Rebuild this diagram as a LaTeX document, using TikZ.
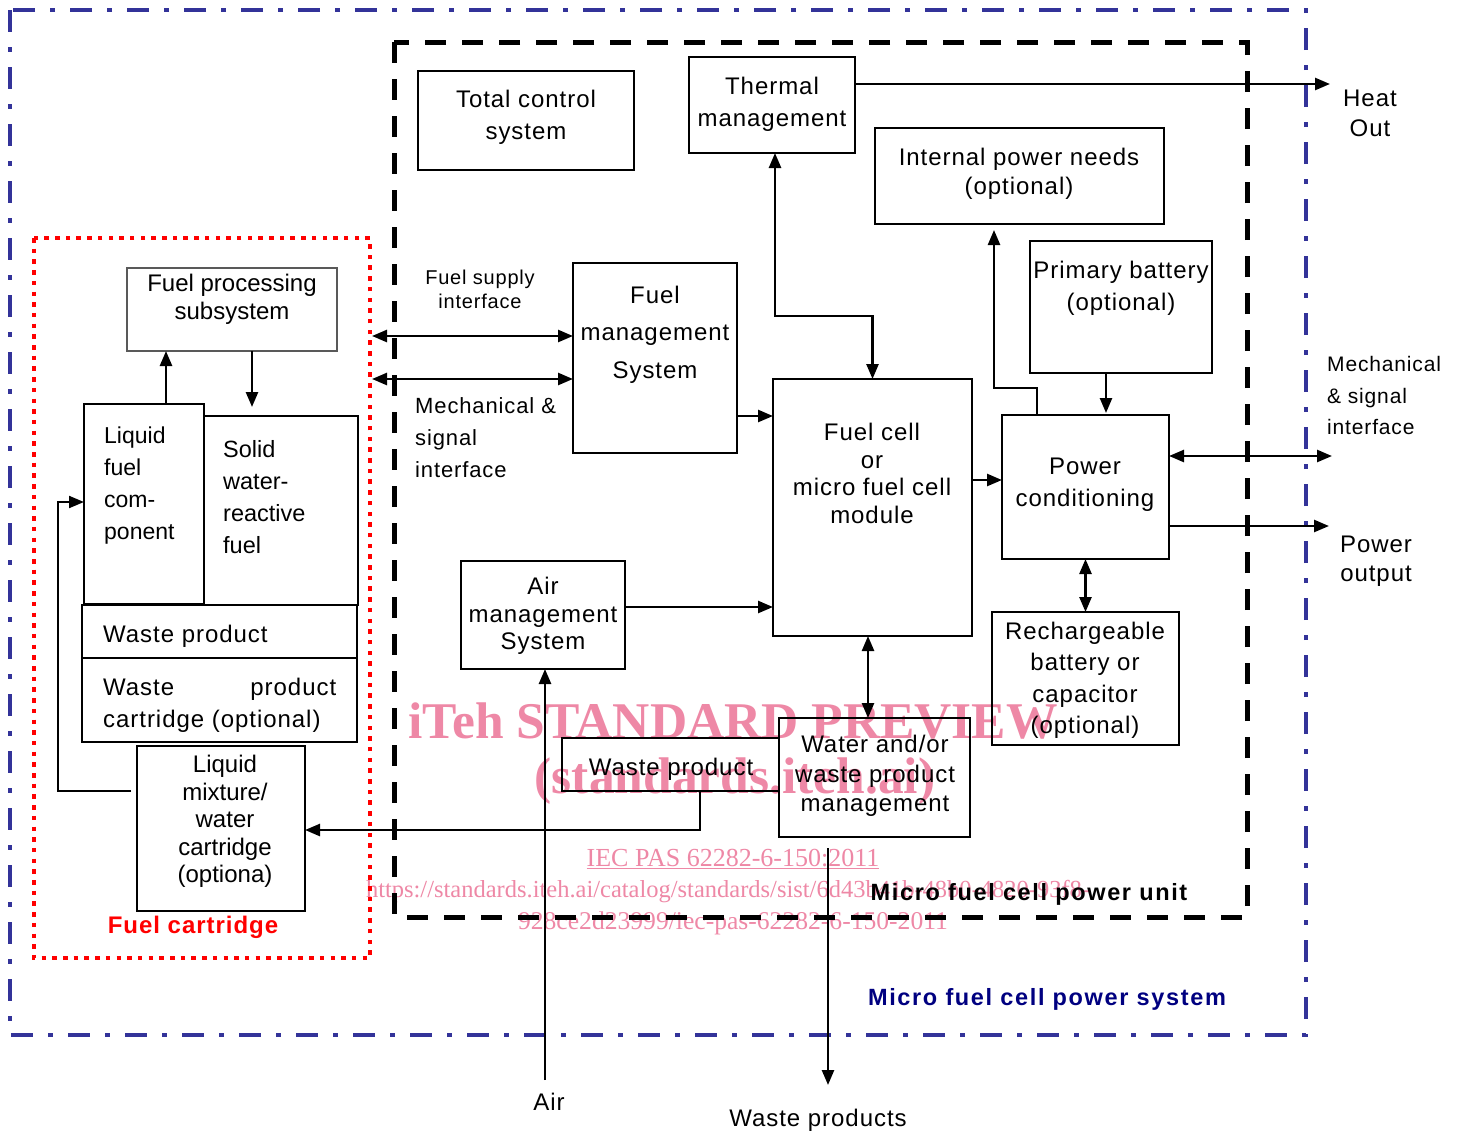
\documentclass[tikz,border=0pt]{standalone}
\usepackage{fontspec}
\setmainfont{Liberation Sans}[LetterSpace=4]
\newfontfamily\wmfont{Liberation Serif}
\usetikzlibrary{arrows.meta,calc}
\definecolor{sysblue}{RGB}{51,51,153}
\definecolor{navyblue}{RGB}{0,0,128}
\definecolor{wmpink}{RGB}{238,136,166}
\newcommand{\fsz}[2]{\fontsize{#1}{#2}\selectfont}
\newcommand{\nosp}{\addfontfeature{LetterSpace=0}}
\newcommand{\widesp}{\addfontfeature{LetterSpace=7}}
\begin{document}
\begin{tikzpicture}[x=1pt,y=-1pt,
 box/.style={draw, line width=2pt, inner sep=0pt, outer sep=0pt},
 txt/.style={inner sep=0pt, align=center, font=\fsz{24}{32}},
 btxt/.style={txt, yshift=-2.5pt},
 arr/.style={line width=2.5pt, -{Triangle[length=15pt,width=12pt]}},
 darr/.style={line width=2.5pt, {Triangle[length=15pt,width=12pt]}-{Triangle[length=15pt,width=12pt]}},
 wm/.style={text=wmpink, inner sep=0pt}]
\useasboundingbox (0,0) rectangle (1462,1135);

% watermark
\node[wm, font=\wmfont\bfseries\fsz{51.5}{51.5}] (wm1) at (733,721) {iTeh STANDARD PREVIEW};
\node[wm, font=\wmfont\bfseries\fsz{51.5}{51.5}] (wm2) at (735,781) {(standards.iteh.ai)};
\node[wm, font=\wmfont\fsz{26}{26}] (wm3) at (733,859) {\underline{IEC PAS 62282-6-150:2011}};
\node[wm, font=\wmfont\fsz{24.5}{24.5}] (wm4) at (728,892) {https://standards.iteh.ai/catalog/standards/sist/6d43b41b-48b0-4820-93f8-};
\node[wm, font=\wmfont\fsz{25.6}{25.6}] (wm5) at (733,923) {928ce2d23999/iec-pas-62282-6-150-2011};

% frames
\draw[sysblue, line width=4pt, dash pattern=on 22pt off 15pt on 5pt off 15pt] (10,10) rectangle (1306,1035);
\draw[black, line width=5pt, dash pattern=on 21pt off 16pt] (394,42) rectangle (1247,917);
\draw[red, line width=4pt, dash pattern=on 4.5pt off 6.2pt] (34,238) rectangle (370,958);

% boxes
\node[box, minimum width=216pt, minimum height=99pt] (tcs) at (526,120.5) {};
\node[box, minimum width=166pt, minimum height=96pt] (therm) at (772,105) {};
\node[box, minimum width=289pt, minimum height=96pt] (ipn) at (1019.5,176) {};
\node[box, minimum width=182pt, minimum height=132pt] (pbat) at (1121,307) {};
\node[box, minimum width=164pt, minimum height=190pt] (fms) at (655,358) {};
\node[box, minimum width=199pt, minimum height=257pt] (fc) at (872.5,507.5) {};
\node[box, minimum width=167pt, minimum height=144pt] (pc) at (1085.5,487) {};
\node[box, minimum width=187pt, minimum height=133pt] (rbat) at (1085.5,678.5) {};
\node[box, minimum width=164pt, minimum height=108pt] (ams) at (543,615) {};
\node[box, minimum width=217pt, minimum height=53pt] (wpc) at (670.5,764.5) {};
\node[box, minimum width=191pt, minimum height=119pt] (wmg) at (874.5,777.5) {};
\node[box, draw=black!65, line width=1.5pt, minimum width=210pt, minimum height=83pt] (fps) at (232,309.5) {};
\node[box, minimum width=120pt, minimum height=200pt] (lfc) at (144,504) {};
\node[box, minimum width=154pt, minimum height=189pt] (swf) at (281,510.5) {};
\node[box, minimum width=275pt, minimum height=53pt] (wpl) at (219.5,631.5) {};
\node[box, minimum width=275pt, minimum height=84pt] (wpk) at (219.5,700) {};
\node[box, minimum width=168pt, minimum height=165pt] (lmw) at (221,828.5) {};

% box texts
\node[btxt] (tcs-t) at (526,115) {Total control\\system};
\node[btxt] (therm-t) at (772,102) {Thermal\\management};
\node[btxt, font=\fsz{24}{29}] (ipn-t) at (1019,171.5) {Internal power needs\\(optional)};
\node[btxt] (pbat-t) at (1121,286) {Primary battery\\(optional)};
\node[btxt, font=\fsz{24}{37.5}] (fms-t) at (655,332) {Fuel\\management\\System};
\node[txt, font=\fsz{24}{27.7}] (fc-t) at (872,473.5) {Fuel cell\\or\\micro fuel cell\\module};
\node[btxt] (pc-t) at (1085,482) {Power\\conditioning};
\node[btxt, font=\fsz{24}{31.5}] (rbat-t) at (1085,678) {Rechargeable\\battery or\\capacitor\\(optional)};
\node[btxt, font=\fsz{24}{27.5}] (ams-t) at (543,613.5) {Air\\management\\System};
\node[btxt] (wpc-t) at (671,767) {Waste product};
\node[btxt, font=\fsz{24}{29.5}] (wmg-t) at (875,773.5) {Water and/or\\waste product\\management};
\node[btxt, font=\nosp\fsz{24}{28}] (fps-t) at (232,297) {Fuel processing\\subsystem};
\node[btxt, align=left, anchor=west, font=\nosp\fsz{23}{32}] (lfc-t) at (104,483) {Liquid\\fuel\\com-\\ponent};
\node[btxt, align=left, anchor=west, font=\nosp\fsz{23.5}{32}] (swf-t) at (223,495) {Solid\\water-\\reactive\\fuel};
\node[btxt, align=left, anchor=west] (wpl-t) at (103,634) {Waste product};
\node[btxt, align=left, anchor=west] (wpk-t) at (103,703) {\makebox[233pt]{Waste\hfill product}\\cartridge (optional)};
\node[btxt, font=\nosp\fsz{24}{27.5}] (lmw-t) at (225,819) {Liquid\\mixture/\\water\\cartridge\\(optiona)};

% free ends
\coordinate (fsL) at (372,336);
\coordinate (msL) at (372,379);
\coordinate (loopx) at (58,791);
\coordinate (airS) at (545,1080);
\coordinate (wasteE) at (828,1085);
\coordinate (heatE) at (1330,84);
\coordinate (mechRE) at (1332,456);
\coordinate (powE) at (1329,526);

% connectors
\draw[arr] ([xshift=22pt]lfc.north) -- ([xshift=22pt]lfc.north |- fps.south);
\draw[arr, shorten >=9pt] ([xshift=20pt]fps.south) -- ([xshift=20pt]fps.south |- swf.north);
\draw[arr, line width=2pt] ([xshift=-6pt,yshift=37.5pt]lmw.west) -- (loopx) |- ([yshift=2pt]lfc.west);
\draw[arr] ([xshift=29.5pt]wpc.south) |- ([yshift=-1.5pt]lmw.east);
\draw[darr] (fsL) -- (fsL -| fms.west);
\draw[darr] (msL) -- (msL -| fms.west);
\draw[arr] ([yshift=-58pt]fms.east) -- ([yshift=-58pt]fms.east -| fc.west);
\draw[arr] ([yshift=8pt]ams.east) -- ([yshift=8pt]ams.east -| fc.west);
\draw[arr] (airS) -- (airS |- ams.south);
\draw[arr] ([xshift=-46.5pt,yshift=-11pt]wmg.south) -- (wasteE);
\draw[darr] ([xshift=-4.5pt]fc.south) -- ([xshift=-4.5pt]fc.south |- wmg.north);
\draw[darr] ([xshift=3pt]therm.south) -- ++(0,163) -| (fc.north);
\draw[arr] ([yshift=21pt]therm.east) -- (heatE);
\draw[arr] ([yshift=27.5pt]fc.east) -- ([yshift=27.5pt]fc.east -| pc.west);
\draw[arr, shorten >=6pt] ([xshift=-48.5pt]pc.north) -- ++(0,-27) -| ([xshift=-25.5pt]ipn.south);
\draw[arr, shorten >=2pt] ([xshift=-15pt]pbat.south) -- ([xshift=-15pt]pbat.south |- pc.north);
\draw[darr] ([yshift=31pt]pc.east) -- (mechRE);
\draw[arr] ([yshift=-39pt]pc.east) -- (powE);
\draw[darr] (pc.south) -- (rbat.north);

% labels
\node[txt, font=\fsz{24}{30}] (heat-t) at (1370,113) {Heat\\Out};
\node[txt, align=left, anchor=west, font=\fsz{21}{31.5}] (mechR-t) at (1327,395.5) {Mechanical\\\& signal\\interface};
\node[txt, font=\fsz{24}{29}] (pow-t) at (1376,561.5) {Power\\output};
\node[txt, font=\fsz{20}{24}] (fsi-t) at (480,289) {Fuel supply\\interface};
\node[txt, align=left, anchor=west, font=\fsz{22}{32}] (msi-t) at (415,438) {Mechanical \&\\signal\\interface};
\node[txt] (air-t) at (549,1102) {Air};
\node[txt] (wps-t) at (818,1120) {Waste products};
\node[txt, font=\bfseries\widesp\fsz{23.5}{23.5}] (unit-t) at (1029,894) {Micro fuel cell power unit};
\node[txt, text=navyblue, font=\bfseries\widesp\fsz{23.5}{23.5}] (sys-t) at (1047,999) {Micro fuel cell power system};
\node[txt, text=red, font=\bfseries\fsz{24}{24}] (fcart-t) at (193,927) {Fuel cartridge};
\end{tikzpicture}
\end{document}
